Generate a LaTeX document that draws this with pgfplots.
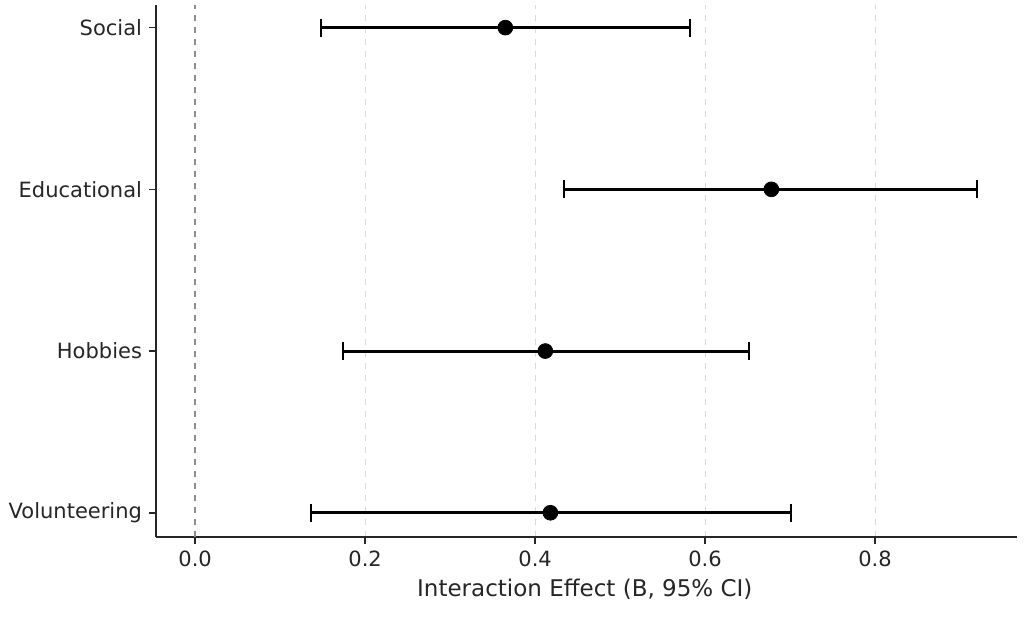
\documentclass[border=0pt]{standalone}
\usepackage{fontspec}
\setmainfont{DejaVu Sans}
\usepackage{pgfplots}
\pgfplotsset{compat=1.18}
\begin{document}
\begin{tikzpicture}
\begin{axis}[
  scale only axis,
  width=430.5pt, height=266pt,
  xmin=-0.046, xmax=0.967,
  ymin=-0.15, ymax=3.14,
  axis x line*=bottom, axis y line*=left,
  axis line style={line width=0.8pt, color=black!85},
  tick align=outside,
  major tick length=3.5pt,
  tick style={line width=0.8pt, color=black!85},
  xtick={0,0.2,0.4,0.6,0.8},
  ytick={0,1,2,3},
  yticklabels={Volunteering,Hobbies,Educational,Social},
  xticklabel style={/pgf/number format/.cd, fixed, fixed zerofill, precision=1, assume math mode=true},
  ticklabel style={font=\fontsize{10.5}{12}\selectfont, color=black!85},
  xmajorgrids=true,
  grid style={dashed, color=black!15, line width=0.5pt},
  xlabel={Interaction Effect (B, 95\% CI)},
  xlabel style={font=\fontsize{11.5}{13}\selectfont, color=black!85, at={(axis description cs:0.498,-0.0977)}, anchor=center},
  clip=false,
]
\addplot[color=black!45, dashed, line width=0.8pt] coordinates {(0,-0.15) (0,3.14)};
\addplot[only marks, mark=*, mark size=3.7pt, color=black,
  error bars/.cd, x dir=both, x explicit,
  error bar style={line width=1.5pt, color=black},
  error mark options={rotate=90, mark size=4.5pt, line width=1.2pt, color=black}]
coordinates {
  (0.365,3) += (0.217,0) -= (0.217,0)
  (0.678,2) += (0.242,0) -= (0.244,0)
  (0.412,1) += (0.240,0) -= (0.238,0)
  (0.418,0) += (0.283,0) -= (0.2815,0)
};
\path[use as bounding box] (rel axis cs:-0.1812,-0.1541) rectangle (rel axis cs:1.0081,1.0094);
\end{axis}
\end{tikzpicture}
\end{document}
